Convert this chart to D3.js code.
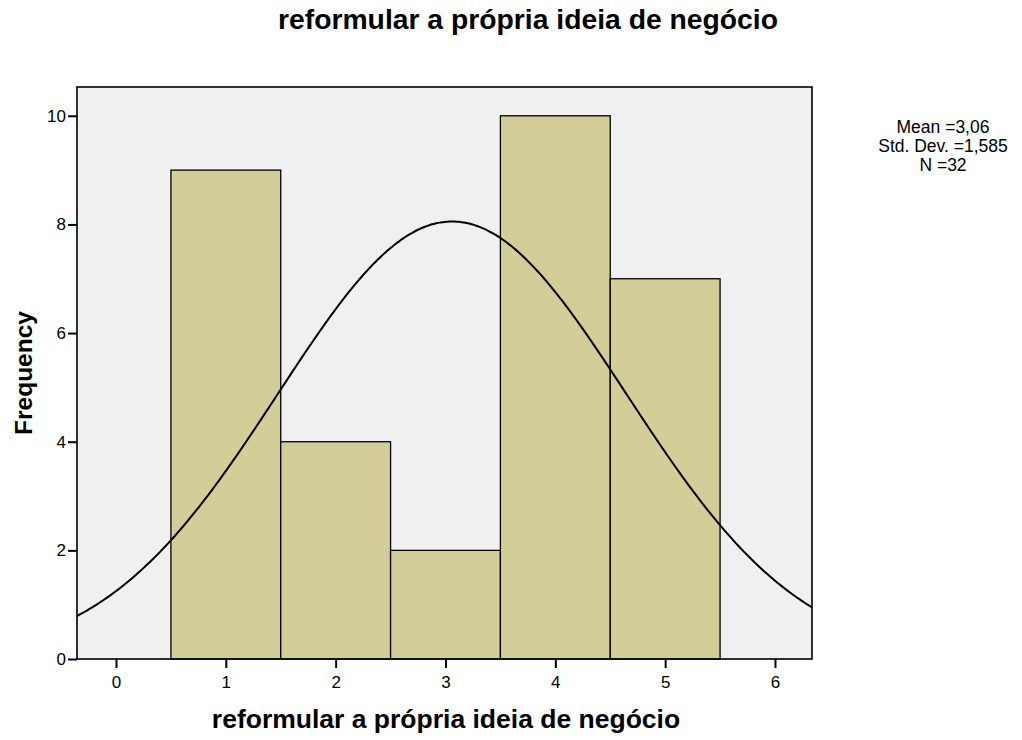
<!DOCTYPE html>
<html>
<head>
<meta charset="utf-8">
<script src="https://cdn.jsdelivr.net/npm/d3@7"></script>
<style>
  body { margin: 0; background: #fff; }
  text { font-family: "Liberation Sans", Arial, sans-serif; }
</style>
</head>
<body>
<div id="hist"><svg></svg></div>
<script>
const categories = [1, 2, 3, 4, 5]
const counts = [9, 4, 2, 10, 7]
const xTicks = [0, 1, 2, 3, 4, 5, 6]
const yTicks = [0, 2, 4, 6, 8, 10]
const statLines = ['Mean =3,06', 'Std. Dev. =1,585', 'N =32']
const mean = 3.06
const sd = 1.585
const n = 32

const W = 1022, H = 740
const margin = { top: 87, right: 210, bottom: 81, left: 77 }
const width = W - margin.left - margin.right
const height = H - margin.top - margin.bottom

const svg = d3.select('#hist svg').attr('width', W).attr('height', H)

const x = d3.scaleLinear().domain([-0.355, 6.337]).range([0, width])
const y = d3.scaleLinear().domain([0, 10.53]).range([height, 0])

const g = svg.append('g').attr('transform', 'translate(' + margin.left + ',' + margin.top + ')')

// fondo del area
g.append('rect')
  .attr('width', width).attr('height', height)
  .attr('fill', '#f0f0f0')

g.append('defs').append('clipPath').attr('id', 'clip')
  .append('rect').attr('width', width).attr('height', height)

// barras
g.selectAll('.bar')
  .data(categories)
  .enter()
  .append('rect')
  .attr('class', 'bar')
  .attr('x', d => x(d - 0.5))
  .attr('width', d => x(d + 0.5) - x(d - 0.5))
  .attr('y', (d, i) => y(counts[i]))
  .attr('height', (d, i) => height - y(counts[i]))
  .attr('fill', '#d3ce98')
  .attr('stroke', '#000')
  .attr('stroke-width', 1.3)

// curva normal
const pts = d3.range(0, 301).map(i => {
  const v = x.domain()[0] + (x.domain()[1] - x.domain()[0]) * i / 300
  const f = n / (sd * Math.sqrt(2 * Math.PI)) * Math.exp(-0.5 * Math.pow((v - mean) / sd, 2))
  return [v, f]
})
g.append('path')
  .datum(pts)
  .attr('clip-path', 'url(#clip)')
  .attr('fill', 'none')
  .attr('stroke', '#000')
  .attr('stroke-width', 2)
  .attr('d', d3.line().x(d => x(d[0])).y(d => y(d[1])).curve(d3.curveBasis))

// marco
g.append('rect')
  .attr('width', width).attr('height', height)
  .attr('fill', 'none')
  .attr('stroke', '#000')
  .attr('stroke-width', 1.6)

// ejes
const xAxis = g.append('g')
  .attr('transform', 'translate(0,' + height + ')')
  .call(d3.axisBottom(x).tickValues(xTicks).tickSize(9).tickPadding(8).tickFormat(d3.format('d')))
const yAxis = g.append('g')
  .call(d3.axisLeft(y).tickValues(yTicks).tickSize(9).tickPadding(2).tickFormat(d3.format('d')))

;[xAxis, yAxis].forEach(a => {
  a.select('.domain').remove()
  a.selectAll('.tick line').attr('stroke', '#000').attr('stroke-width', 2)
  a.selectAll('.tick text')
    .attr('fill', '#000')
    .style('font-family', '"Liberation Sans", Arial, sans-serif')
    .style('font-size', '17px')
})

// titulos
svg.append('text')
  .attr('x', 528).attr('y', 29)
  .attr('text-anchor', 'middle')
  .attr('font-size', '28.3px').attr('font-weight', 700)
  .text('reformular a própria ideia de negócio')

svg.append('text')
  .attr('x', 446).attr('y', 728)
  .attr('text-anchor', 'middle')
  .attr('font-size', '26.5px').attr('font-weight', 700)
  .text('reformular a própria ideia de negócio')

svg.append('text')
  .attr('transform', 'translate(32,' + (margin.top + height / 2) + ') rotate(-90)')
  .attr('text-anchor', 'middle')
  .attr('font-size', '24.5px').attr('font-weight', 700)
  .text('Frequency')

// estadisticos
svg.append('g')
  .selectAll('text')
  .data(statLines)
  .enter()
  .append('text')
  .attr('x', 943)
  .attr('y', (d, i) => 133 + i * 19)
  .attr('text-anchor', 'middle')
  .attr('font-size', '17.5px')
  .text(d => d)
</script>
</body>
</html>
